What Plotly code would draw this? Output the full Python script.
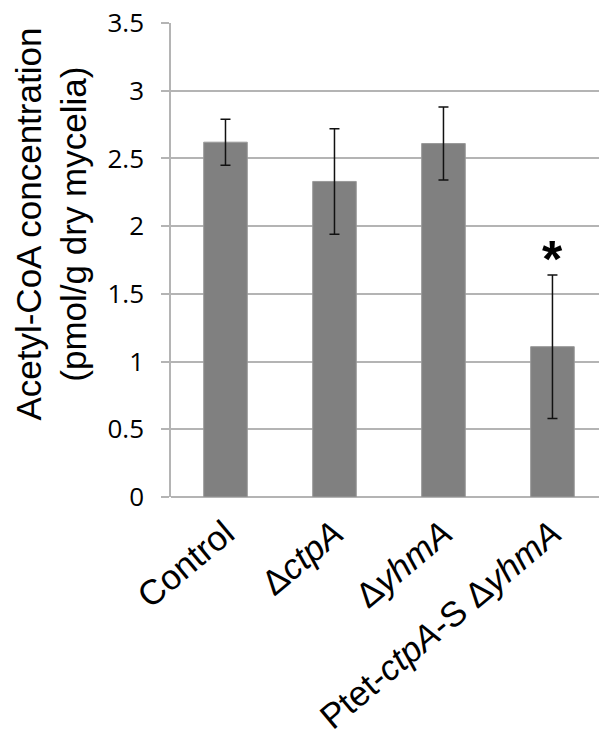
import plotly.graph_objects as go

categories = ["Control", "Δ<i>ctpA</i>", "Δ<i>yhmA</i>", "Ptet-<i>ctpA</i>-S Δ<i>yhmA</i>"]
values = [2.62, 2.33, 2.61, 1.11]
errors = [0.17, 0.39, 0.27, 0.53]
y_ticks = [0, 0.5, 1, 1.5, 2, 2.5, 3, 3.5]
y_tick_labels = ["0", "0.5", "1", "1.5", "2", "2.5", "3", "3.5"]

x_pos = list(range(len(categories)))

fig = go.Figure()
fig.add_trace(go.Bar(
    x=x_pos, y=values,
    marker=dict(color="#808080", line=dict(color="#9a9a9a", width=1)),
    width=0.4,
    error_y=dict(type="data", array=errors, visible=True, color="#111111",
                 thickness=1.5, width=5),
))

fig.add_annotation(x=3, y=1.76, xref="x", yref="y", text="<b>*</b>",
                   showarrow=False, font=dict(family="Liberation Sans", size=52, color="black"),
                   xanchor="center", yanchor="middle")

fig.add_annotation(x=-0.28, y=0.575, xref="paper", yref="paper",
                   text="Acetyl-CoA concentration<br>(pmol/g dry mycelia)",
                   textangle=-90, showarrow=False,
                   font=dict(family="Liberation Sans", size=35, color="black"),
                   xanchor="center", yanchor="middle")

fig.update_layout(
    width=599, height=740,
    margin=dict(l=171, r=0, t=23, b=243),
    plot_bgcolor="white", paper_bgcolor="white",
    showlegend=False,
    xaxis=dict(
        range=[-0.5, 3.427],
        tickvals=x_pos, ticktext=categories,
        tickangle=-40,
        tickfont=dict(family="Liberation Sans", size=35, color="black"),
        showgrid=False, showline=False, zeroline=False, ticks="",
        ticklabelstandoff=8,
    ),
    yaxis=dict(
        range=[0, 3.5],
        tickvals=y_ticks, ticktext=y_tick_labels,
        tickfont=dict(family="Open Sans", size=26, color="black"),
        showgrid=True, gridcolor="#b4b4b4", gridwidth=1.5,
        showline=True, linecolor="#b4b4b4", linewidth=1.5,
        zeroline=True, zerolinecolor="#b4b4b4", zerolinewidth=1.5,
        ticks="outside", ticklen=8, tickcolor="#b4b4b4", tickwidth=1.5,
        ticklabelstandoff=12,
    ),
)

fig.write_html("out.html")
